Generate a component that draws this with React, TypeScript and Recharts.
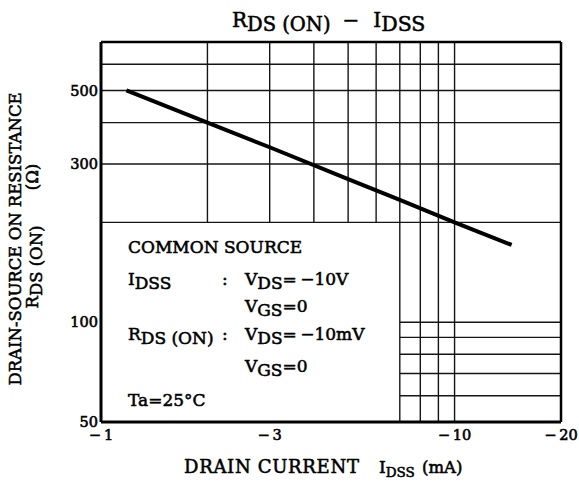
import React from 'react';
import { LineChart, Line, XAxis, YAxis, ReferenceLine } from 'recharts';

// Drain current |IDSS| (mA) and RDS(ON) (Ω)
const currentMA = [1.18, 2, 3, 5, 7, 10, 14.5];
const rdsOn = [500, 400, 337, 270, 234, 200, 171];

const xTicks = [1, 3, 10, 20];
const yTicks = [50, 100, 300, 500];

// grid lines of the printed graph paper
const gridXFull = [7, 8, 9, 10];
const gridXUpper = [2, 3, 4, 5, 6];
const gridYFull = [200, 300, 400, 500, 600];
const gridYLower = [60, 70, 80, 90, 100];

const xDomain: [number, number] = [1, 20];
const yDomain: [number, number] = [50, 700];

const data = currentMA.map((x, i) => ({ x, y: rdsOn[i] }));

const FONT = '"DejaVu Serif", serif';
const GRID = '#151515';

const txt = {
  fontFamily: FONT,
  fill: '#000',
  stroke: '#000',
  strokeWidth: 0.55,
} as const;

function Sub({ base, sub, rest, x, y, size = 17, subSize, shift = 4 }: any) {
  return (
    <text x={x} y={y} fontSize={size} {...txt}>
      <tspan>{base}</tspan>
      <tspan dy={shift} fontSize={subSize || size}>{sub}</tspan>
      {rest ? <tspan dy={-shift}>{rest}</tspan> : null}
    </text>
  );
}

const tickStyle = { fontSize: 14.5, fontFamily: FONT, fill: '#000', stroke: '#000', strokeWidth: 0.6 };

export default function App() {
  return (
    <div style={{ position: 'absolute', left: 0, top: 0, width: 579, height: 486, background: '#fff' }}>
      <LineChart
        width={579}
        height={486}
        data={data}
        margin={{ top: 42, right: 18, bottom: 34, left: 41 }}
      >
        <XAxis
          dataKey="x"
          type="number"
          scale="log"
          domain={xDomain}
          ticks={xTicks}
          allowDataOverflow
          height={30}
          tickLine={false}
          tickSize={0}
          tickMargin={8}
          axisLine={{ stroke: '#000', strokeWidth: 3 }}
          tick={tickStyle}
          tickFormatter={(v: number) => '\u2212\u2009' + v}
          interval={0}
        />
        <YAxis
          dataKey="y"
          type="number"
          scale="log"
          domain={yDomain}
          ticks={yTicks}
          allowDataOverflow
          width={60}
          tickLine={false}
          tickSize={0}
          tickMargin={3}
          axisLine={{ stroke: '#000', strokeWidth: 3 }}
          tick={tickStyle}
          interval={0}
        />
        {gridXUpper.map((g) => (
          <ReferenceLine key={'xu' + g} segment={[{ x: g, y: 200 }, { x: g, y: 700 }]} stroke={GRID} strokeWidth={1.4} />
        ))}
        {gridXFull.map((g) => (
          <ReferenceLine key={'xf' + g} segment={[{ x: g, y: 50 }, { x: g, y: 700 }]} stroke={GRID} strokeWidth={1.4} />
        ))}
        {gridYFull.map((g) => (
          <ReferenceLine key={'yf' + g} segment={[{ x: 1, y: g }, { x: 20, y: g }]} stroke={GRID} strokeWidth={1.4} />
        ))}
        {gridYLower.map((g) => (
          <ReferenceLine key={'yl' + g} segment={[{ x: 7, y: g }, { x: 20, y: g }]} stroke={GRID} strokeWidth={1.4} />
        ))}
        <ReferenceLine y={700} stroke="#000" strokeWidth={2.5} />
        <ReferenceLine x={20} stroke="#000" strokeWidth={2.5} />
        <Line
          dataKey="y"
          type="linear"
          stroke="#000"
          strokeWidth={4}
          dot={false}
          isAnimationActive={false}
        />
      </LineChart>
      <svg
        width={579}
        height={486}
        style={{ position: 'absolute', left: 0, top: 0, pointerEvents: 'none' }}
      >
        {/* title */}
        <text x={232} y={27} fontSize={20} {...txt}>
          <tspan>R</tspan>
          <tspan dy={4} fontSize={19.5}>DS (ON)</tspan>
          <tspan dy={-4} dx={12}>{'\u2212'}</tspan>
          <tspan dx={14}>I</tspan>
          <tspan dy={4} fontSize={20.5}>DSS</tspan>
        </text>

        {/* y axis title */}
        <g transform="translate(21,239) rotate(-90)">
          <text x={0} y={0} textAnchor="middle" fontSize={16.5} {...txt}>
            DRAIN-SOURCE ON RESISTANCE
          </text>
        </g>
        <g transform="translate(38,267) rotate(-90)">
          <text x={0} y={0} textAnchor="middle" fontSize={16.5} {...txt}>
            <tspan>R</tspan>
            <tspan dy={4}>DS (ON)</tspan>
          </text>
        </g>
        <g transform="translate(38,177) rotate(-90)">
          <text x={0} y={0} textAnchor="middle" fontSize={16.5} {...txt}>
            (Ω)
          </text>
        </g>

        {/* x axis title */}
        <text x={184} y={473} fontSize={18} letterSpacing={0.7} {...txt}>
          DRAIN CURRENT
        </text>
        <Sub x={379} y={473} base="I" sub="DSS" size={17} subSize={13.5} />
        <text x={422} y={473} fontSize={16.5} {...txt}>
          (mA)
        </text>

        {/* conditions */}
        <text x={128} y={253} fontSize={17} {...txt}>COMMON SOURCE</text>
        <Sub x={128} y={285} base="I" sub="DSS" />
        <text x={222} y={285} fontSize={17} {...txt}>:</text>
        <Sub x={245} y={285} base="V" sub="DS" rest={'=\u2009\u221210V'} />
        <Sub x={245} y={312} base="V" sub="GS" rest="=0" />
        <Sub x={128} y={340} base="R" sub="DS (ON)" />
        <text x={222} y={340} fontSize={17} {...txt}>:</text>
        <Sub x={245} y={340} base="V" sub="DS" rest={'=\u2009\u221210mV'} />
        <Sub x={245} y={372} base="V" sub="GS" rest="=0" />
        <text x={128} y={406} fontSize={17} {...txt}>Ta=25°C</text>
      </svg>
    </div>
  );
}
